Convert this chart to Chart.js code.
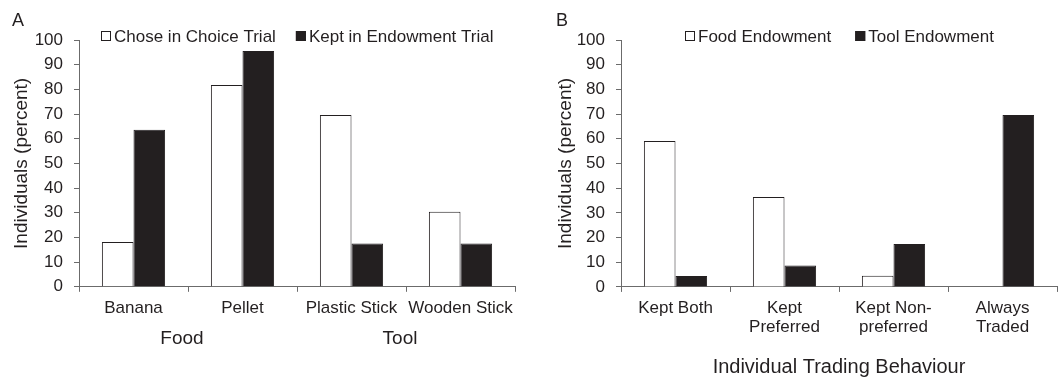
<!DOCTYPE html>
<html lang="en">
<head>
    <meta charset="UTF-8">
    <title>Choice and Endowment Trials</title>
    <script src="https://cdn.jsdelivr.net/npm/chart.js@4.4.0/dist/chart.umd.min.js"></script>
    <style>
        body { margin: 0; background: #fff; }
        #wrap { position: relative; width: 1058px; height: 377px; }
        .panel { position: absolute; top: 0; width: 529px; height: 377px; }
        #panelA { left: 0; }
        #panelB { left: 529px; }
    </style>
</head>
<body>
<div id="wrap">
    <div class="panel" id="panelA"><canvas id="chartA" width="529" height="377"></canvas></div>
    <div class="panel" id="panelB"><canvas id="chartB" width="529" height="377"></canvas></div>
</div>

<script>
    // panel A
    const itemLabels = ['Banana', 'Pellet', 'Plastic Stick', 'Wooden Stick'];
    const itemGroups = ['Food', 'Tool'];
    const choseInChoice = [18.2, 81.8, 69.6, 30.4];
    const keptInEndowment = [63.6, 95.5, 17.5, 17.5];

    // panel B
    const behaviourLabels = [['Kept Both'], ['Kept', 'Preferred'], ['Kept Non-', 'preferred'], ['Always', 'Traded']];
    const foodEndowment = [59.1, 36.4, 4.5, 0];
    const toolEndowment = [4.4, 8.7, 17.4, 69.6];

    const yTicks = [0, 10, 20, 30, 40, 50, 60, 70, 80, 90, 100];

    const textColor = '#231f20';
    const barDark = '#231f20';
    const axisColor = '#6b6b6b';

    Chart.defaults.font.family = '"Liberation Sans", Arial, sans-serif';
    Chart.defaults.color = textColor;

    // legend drawn over the top of the plot area, centred on it
    const innerLegend = {
        id: 'innerLegend',
        afterDraw(chart, args, opts) {
            const ctx = chart.ctx;
            const area = chart.chartArea;
            ctx.save();
            ctx.font = '17px "Liberation Sans", Arial, sans-serif';
            ctx.textBaseline = 'middle';
            const box = 10, gap = 3, spacing = opts.spacing || 20;
            const items = chart.data.datasets.map(ds => ({ text: ds.label, fill: ds.backgroundColor }));
            let total = 0;
            items.forEach((it, i) => {
                it.w = ctx.measureText(it.text).width;
                total += box + gap + it.w + (i ? spacing : 0);
            });
            let x = Math.round((area.left + area.right) / 2 - total / 2);
            const y = opts.y;
            items.forEach((it, i) => {
                if (i) x += spacing;
                ctx.fillStyle = it.fill;
                ctx.fillRect(x, y - box / 2, box, box);
                ctx.strokeStyle = barDark;
                ctx.lineWidth = 1;
                ctx.strokeRect(x + 0.5, y - box / 2 + 0.5, box - 1, box - 1);
                x += box + gap;
                ctx.fillStyle = textColor;
                ctx.fillText(it.text, x, y + 1);
                x += it.w;
            });
            ctx.restore();
        }
    };

    function yAxis(width) {
        return {
            min: 0,
            max: 100,
            afterBuildTicks: axis => { axis.ticks = yTicks.map(v => ({ value: v })); },
            afterFit: axis => { axis.width = width; },
            ticks: { font: { size: 17 }, padding: 11, color: textColor, autoSkip: false },
            grid: { drawOnChartArea: false, tickLength: 5, color: axisColor },
            border: { color: axisColor },
            title: {
                display: true,
                text: 'Individuals (percent)',
                font: { size: 19, lineHeight: 1 },
                padding: 0,
                color: textColor
            }
        };
    }

    const barOpts = {
        borderColor: barDark,
        borderWidth: 1,
        categoryPercentage: 0.58,
        barPercentage: 1.0
    };

    new Chart(document.getElementById('chartA'), {
        type: 'bar',
        data: {
            labels: itemLabels,
            datasets: [
                Object.assign({ label: 'Chose in Choice Trial', data: choseInChoice, backgroundColor: '#ffffff' }, barOpts),
                Object.assign({ label: 'Kept in Endowment Trial', data: keptInEndowment, backgroundColor: barDark }, barOpts)
            ]
        },
        options: {
            responsive: false,
            animation: false,
            layout: { padding: { left: 12, right: 14, top: 0, bottom: 24 } },
            scales: {
                x: {
                    ticks: { font: { size: 17 }, padding: 6, maxRotation: 0, color: textColor },
                    grid: { drawOnChartArea: false, tickLength: 5, color: axisColor, offset: true },
                    border: { color: axisColor }
                },
                group: {
                    type: 'category',
                    position: 'bottom',
                    labels: itemGroups,
                    offset: true,
                    ticks: { font: { size: 19 }, padding: 3, labelOffset: -6, maxRotation: 0, color: textColor },
                    grid: { display: false, drawTicks: false, tickLength: 0 },
                    border: { display: false }
                },
                y: yAxis(67)
            },
            plugins: {
                legend: { display: false },
                tooltip: { enabled: false },
                title: {
                    display: true,
                    text: 'A',
                    align: 'start',
                    font: { size: 18, weight: 'normal' },
                    padding: { top: 10.7, bottom: 7.7 },
                    color: textColor
                },
                innerLegend: { y: 36, spacing: 20 }
            }
        },
        plugins: [innerLegend]
    });

    new Chart(document.getElementById('chartB'), {
        type: 'bar',
        data: {
            labels: behaviourLabels,
            datasets: [
                Object.assign({ label: 'Food Endowment', data: foodEndowment, backgroundColor: '#ffffff' }, barOpts),
                Object.assign({ label: 'Tool Endowment', data: toolEndowment, backgroundColor: barDark }, barOpts)
            ]
        },
        options: {
            responsive: false,
            animation: false,
            layout: { padding: { left: 27, right: 1, top: 0, bottom: 0 } },
            scales: {
                x: {
                    ticks: { font: { size: 17, lineHeight: 1.12 }, padding: 6.5, maxRotation: 0, color: textColor },
                    grid: { drawOnChartArea: false, tickLength: 5, color: axisColor, offset: true },
                    border: { color: axisColor },
                    title: {
                        display: true,
                        text: 'Individual Trading Behaviour',
                        font: { size: 20 },
                        padding: { top: 12, bottom: -2 },
                        color: textColor
                    }
                },
                y: yAxis(65)
            },
            plugins: {
                legend: { display: false },
                tooltip: { enabled: false },
                title: {
                    display: true,
                    text: 'B',
                    align: 'start',
                    font: { size: 18, weight: 'normal' },
                    padding: { top: 10.7, bottom: 7.7 },
                    color: textColor
                },
                innerLegend: { y: 36, spacing: 24 }
            }
        },
        plugins: [innerLegend]
    });
</script>
</body>
</html>
